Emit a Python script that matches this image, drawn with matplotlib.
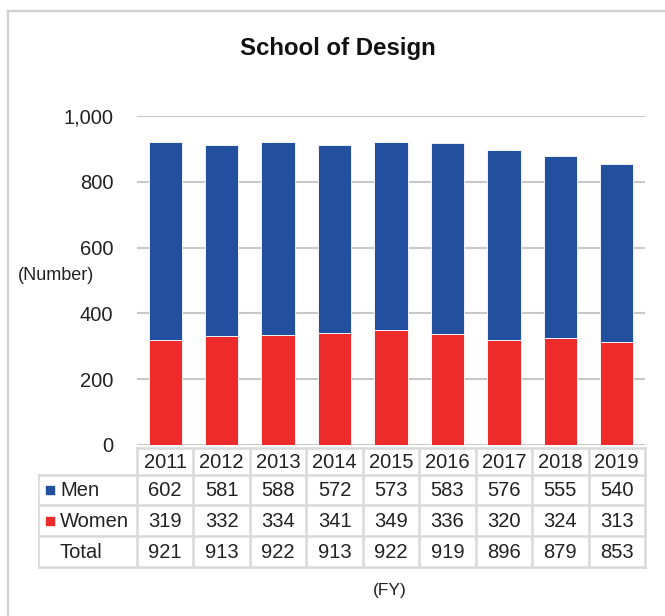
import numpy as np
import matplotlib.pyplot as plt
from matplotlib.lines import Line2D
from matplotlib.ticker import FuncFormatter

plt.rcParams['font.family'] = ['Liberation Sans', 'DejaVu Sans']

years = ['2011', '2012', '2013', '2014', '2015', '2016', '2017', '2018', '2019']
men = [602, 581, 588, 572, 573, 583, 576, 555, 540]
women = [319, 332, 334, 341, 349, 336, 320, 324, 313]
total = [921, 913, 922, 913, 922, 919, 896, 879, 853]

blue = '#22509E'
red = '#EE2B2B'
grid_c = '#C8C8C8'
cell_c = '#D9D9D9'

W, H = 665, 616
fig = plt.figure(figsize=(W / 100, H / 100), dpi=100)

def px_axes(x0, y0, x1, y1):
    # pixel box (top-left origin) -> figure axes
    return fig.add_axes([x0 / W, 1 - y1 / H, (x1 - x0) / W, (y1 - y0) / H])

# outer frame (top and left only)
fig.add_artist(Line2D([8 / W, 1], [1 - 11 / H, 1 - 11 / H], color='#D0D0D0', lw=1.6))
fig.add_artist(Line2D([8 / W, 8 / W], [0, 1 - 11 / H], color='#D0D0D0', lw=1.6))

# bar chart
ax = px_axes(137, 116, 645, 445)
x = np.arange(len(years))
ax.bar(x, women, width=0.59, color=red, edgecolor='white', linewidth=0.6, zorder=3)
ax.bar(x, men, width=0.59, bottom=women, color=blue, edgecolor='white', linewidth=0.6, zorder=3)
ax.set_xlim(-0.5, len(years) - 0.5)
ax.set_ylim(0, 1000)
ax.set_yticks(np.arange(0, 1001, 200))
ax.yaxis.set_major_formatter(FuncFormatter(lambda v, p: f'{int(v):,}'))
ax.tick_params(axis='y', length=0, pad=17, labelsize=14.5, labelcolor='#222222')
ax.set_xticks([])
ax.grid(axis='y', color=grid_c, lw=1.5, zorder=0)
for s in ax.spines.values():
    s.set_visible(False)

fig.text(338 / W, 1 - 49 / H, 'School of Design', ha='center', va='center',
         fontsize=17.3, fontweight='bold', color='#111111')
fig.text(18 / W, 1 - 276 / H, '(Number)', ha='left', va='center', fontsize=13, color='#222222')
fig.text(390 / W, 1 - 590 / H, '(FY)', ha='center', va='center', fontsize=12.5, color='#222222')

# data table underneath
tx0, tx1 = 38, 645
col_w = (tx1 - 137) / len(years)
ax_t = px_axes(tx0, 446, tx1 + 2, 570)
ax_t.set_xlim(tx0, tx1 + 2)
ax_t.set_ylim(570, 446)
ax_t.axis('off')

row_y = [448, 475, 505, 536, 567]
col_x = [137 + i * col_w for i in range(len(years) + 1)]
lw = 1.8
# horizontal lines
ax_t.plot([137, tx1], [row_y[0]] * 2, color=cell_c, lw=lw)
for yy in row_y[1:]:
    ax_t.plot([tx0, tx1], [yy] * 2, color=cell_c, lw=lw)
# vertical lines
ax_t.plot([tx0, tx0], [row_y[1], row_y[-1]], color=cell_c, lw=lw)
for xx in col_x:
    ax_t.plot([xx, xx], [row_y[0], row_y[-1]], color=cell_c, lw=lw)

fs = 14.5
for i, yr in enumerate(years):
    cx = (col_x[i] + col_x[i + 1]) / 2
    ax_t.text(cx, (row_y[0] + row_y[1]) / 2 + 1, yr, ha='center', va='center', fontsize=fs, color='#222222')
    for r, vals in enumerate([men, women, total]):
        ax_t.text(cx, (row_y[r + 1] + row_y[r + 2]) / 2 + 1, str(vals[i]),
                  ha='center', va='center', fontsize=fs, color='#222222')

labels = ['Men', 'Women', 'Total']
marks = [blue, red, None]
for r, (lab, mc) in enumerate(zip(labels, marks)):
    cy = (row_y[r + 1] + row_y[r + 2]) / 2
    if mc:
        ax_t.scatter([50], [cy], marker='s', s=38, color=mc)
    ax_t.text(60, cy + 1, lab, ha='left', va='center', fontsize=fs, color='#222222')

fig.savefig('out.png', dpi=100)
